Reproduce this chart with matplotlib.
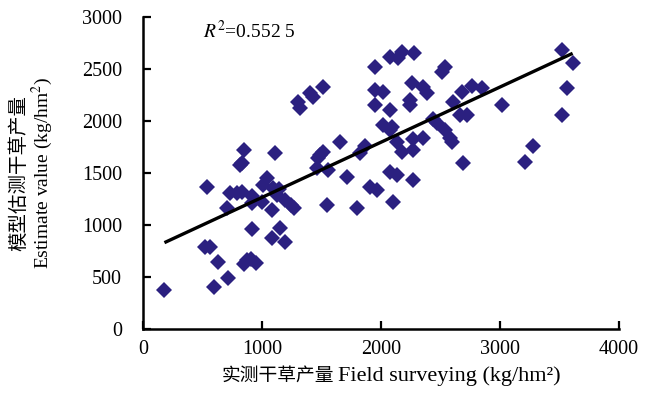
import matplotlib
matplotlib.use("Agg")
import matplotlib.pyplot as plt
import numpy as np

plt.rcParams['font.family'] = ['Liberation Serif', 'Noto Sans CJK SC']
plt.rcParams['mathtext.fontset'] = 'stix'

# 实测值 (x) 与 模型估测值 (y), kg/hm2
field = [180, 600, 715, 520, 560, 630, 845, 870, 910, 950,
         540, 705, 735, 790, 830, 845, 815, 915, 913, 997,
         913, 1081, 1151, 1193, 1081, 1039, 1011, 1095, 1123, 1110,
         1140, 1193, 1240, 1270, 829, 1305, 1319, 1403, 1431, 1515,
         1515, 1487, 1473, 1460, 1557, 1550, 1655, 1712, 1796, 1866,
         1824, 1908, 1964, 1950, 2076, 2174, 2145, 2280, 1950, 2019,
         1950, 2076, 2019, 2090, 2076, 2103, 2076, 2132, 2132, 2174,
         2272, 2272, 2265, 2258, 2244, 2244, 2356, 2384, 2353, 2440,
         2468, 2510, 2538, 2538, 2580, 2594, 2608, 2664, 2720, 2678,
         2762, 2846, 2692, 3014, 3210, 3280, 3518, 3616, 3566, 3518]
estimate = [380, 405, 488, 785, 790, 645, 630, 660, 670, 632,
            1368, 1160, 1305, 1305, 1320, 1721, 1577, 1275, 1208, 1224,
            963, 880, 968, 839, 1144, 1449, 1385, 1353, 1288, 1690,
            1345, 1240, 1190, 1160, 1593, 2186, 2122, 2266, 2234, 2330,
            1700, 1673, 1641, 1545, 1529, 1190, 1795, 1460, 1161, 1760,
            1689, 1368, 1337, 2522, 2618, 2666, 2602, 2655, 2298, 2282,
            2154, 2106, 1962, 1945, 1913, 1224, 1513, 1481, 1801, 1706,
            1721, 1433, 1830, 2362, 2202, 2154, 2330, 2266, 1837, 2020,
            1978, 2474, 2522, 1913, 1835, 1801, 2186, 2058, 2058, 2282,
            2340, 2314, 1593, 2154, 1609, 1757, 2683, 2555, 2314, 2058]

# 趋势线
trend_x = [180, 3610]
slope, intercept = 0.5306, 735
r2_text = r'$\mathit{R}^2$=0.552 5'

xticks = [0, 1000, 2000, 3000, 4000]
yticks = [0, 500, 1000, 1500, 2000, 2500, 3000]

fig = plt.figure(figsize=(6.53, 3.95), dpi=100)
ax = fig.add_axes([0.219, 0.167, 0.729, 0.790])

ax.plot(field, estimate, linestyle='none', marker='D', markersize=7.8,
        color='#2B2080', markeredgewidth=0)
tx = np.array(trend_x)
ax.plot(tx, slope * tx + intercept, color='black', linewidth=2.4, solid_capstyle='butt')

ax.set_xlim(0, 4000)
ax.set_ylim(0, 3000)
ax.set_xticks(xticks)
ax.set_yticks(yticks)
ax.tick_params(direction='in', length=6, width=1.6, labelsize=14.5)
ax.tick_params(axis='y', pad=15)
ax.tick_params(axis='x', pad=8)
for s in ['top', 'right']:
    ax.spines[s].set_visible(False)
for s in ['left', 'bottom']:
    ax.spines[s].set_linewidth(1.8)

ax.text(0.125, 0.955, r2_text, transform=ax.transAxes, fontsize=14,
        va='center', ha='left')

# x 轴标题: 中文与英文分开放置
fig.text(222 / 653, 1 - 376 / 395, '实测干草产量', fontsize=13.5,
         ha='left', va='center')
fig.text(338 / 653, 1 - 376 / 395, 'Field surveying (kg/hm²)', fontsize=16,
         ha='left', va='center')

ax.set_ylabel('模型估测干草产量\nEstimate value (kg/hm$^2$)', fontsize=14,
              multialignment='center', linespacing=1.1)
ax.yaxis.set_label_coords(-0.185, 0.5)

fig.savefig('out.png', dpi=100)
